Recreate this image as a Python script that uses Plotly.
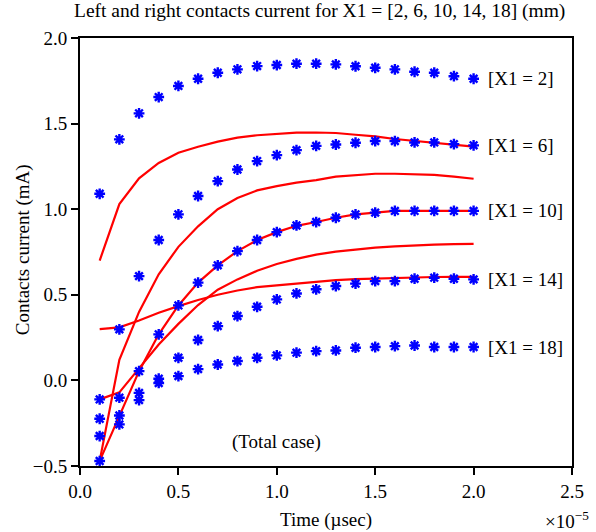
import plotly.graph_objects as go

# Time samples (x 1e-5)
t = [0.1, 0.2, 0.3, 0.4, 0.5, 0.6, 0.7, 0.8, 0.9, 1.0,
     1.1, 1.2, 1.3, 1.4, 1.5, 1.6, 1.7, 1.8, 1.9, 2.0]

# Blue (star) series, one per X1
blue_x1_2 = [1.09, 1.408, 1.56, 1.655, 1.72, 1.762, 1.797, 1.817, 1.836, 1.842,
             1.85, 1.85, 1.846, 1.835, 1.826, 1.817, 1.803, 1.797, 1.777, 1.762]
blue_x1_6 = [-0.111, 0.298, 0.609, 0.82, 0.97, 1.077, 1.164, 1.232, 1.281, 1.316,
             1.345, 1.37, 1.378, 1.388, 1.398, 1.398, 1.39, 1.39, 1.38, 1.373]
blue_x1_10 = [-0.471, -0.205, 0.054, 0.269, 0.438, 0.571, 0.672, 0.755, 0.82, 0.866,
              0.905, 0.925, 0.95, 0.97, 0.98, 0.99, 0.99, 0.99, 0.99, 0.99]
blue_x1_14 = [-0.224, -0.101, -0.073, 0.01, 0.132, 0.236, 0.317, 0.376, 0.43, 0.473,
              0.508, 0.532, 0.551, 0.565, 0.58, 0.58, 0.594, 0.6, 0.594, 0.59]
blue_x1_18 = [-0.325, -0.257, -0.115, -0.015, 0.025, 0.066, 0.093, 0.113, 0.132, 0.146,
              0.162, 0.171, 0.175, 0.191, 0.195, 0.2, 0.204, 0.195, 0.195, 0.195]

# Red (line) series
red_1 = [0.70, 1.03, 1.18, 1.27, 1.33, 1.365, 1.395, 1.418, 1.432, 1.44,
         1.447, 1.448, 1.445, 1.435, 1.425, 1.41, 1.398, 1.385, 1.375, 1.365]
red_2 = [-0.47, 0.12, 0.40, 0.62, 0.78, 0.90, 1.0, 1.065, 1.11, 1.135,
         1.155, 1.17, 1.19, 1.2, 1.207, 1.207, 1.205, 1.2, 1.19, 1.178]
red_3 = [-0.47, -0.21, 0.054, 0.269, 0.438, 0.571, 0.672, 0.755, 0.82, 0.866,
         0.903, 0.925, 0.95, 0.97, 0.98, 0.99, 0.99, 0.99, 0.99, 0.99]
red_4 = [-0.111, -0.07, 0.07, 0.21, 0.33, 0.44, 0.53, 0.59, 0.64, 0.68,
         0.71, 0.735, 0.752, 0.765, 0.775, 0.783, 0.789, 0.793, 0.796, 0.798]
red_5 = [0.30, 0.31, 0.35, 0.395, 0.434, 0.47, 0.50, 0.525, 0.545, 0.555,
         0.567, 0.578, 0.586, 0.592, 0.596, 0.6, 0.602, 0.604, 0.605, 0.605]

labels = ["[X1 = 2]", "[X1 = 6]", "[X1 = 10]", "[X1 = 14]", "[X1 = 18]"]
x_ticks = [0.0, 0.5, 1.0, 1.5, 2.0, 2.5]
y_ticks = [-0.5, 0.0, 0.5, 1.0, 1.5, 2.0]

FONT = "Liberation Serif, Times New Roman, serif"

fig = go.Figure()
for r in [red_1, red_2, red_3, red_4, red_5]:
    fig.add_trace(go.Scatter(x=t, y=r, mode="lines",
                             line=dict(color="#ff0000", width=2.2),
                             showlegend=False, hoverinfo="skip"))
blues = [blue_x1_2, blue_x1_6, blue_x1_10, blue_x1_14, blue_x1_18]
for b in blues:
    fig.add_trace(go.Scatter(x=t, y=b, mode="markers",
                             marker=dict(symbol="asterisk-open", size=9,
                                         color="#0000ff",
                                         line=dict(color="#0000ff", width=2.4)),
                             showlegend=False, hoverinfo="skip"))

annotations = []
for lab, b in zip(labels, blues):
    annotations.append(dict(x=2.065, y=b[-1], xref="x", yref="y", text=lab,
                            showarrow=False, xanchor="left", yanchor="middle",
                            font=dict(family=FONT, size=19, color="black")))
annotations.append(dict(x=1.0, y=-0.36, xref="x", yref="y", text="(Total case)",
                        showarrow=False, xanchor="center", yanchor="middle",
                        font=dict(family=FONT, size=19, color="black")))
annotations.append(dict(x=0.486, y=1.062, xref="paper", yref="paper",
                        text="Left and right contacts current for X1 = [2, 6, 10, 14, 18] (mm)",
                        showarrow=False, xanchor="center", yanchor="middle",
                        font=dict(family=FONT, size=19.5, color="black")))
annotations.append(dict(x=0.5, y=-0.126, xref="paper", yref="paper",
                        text="Time (\u00b5sec)", showarrow=False,
                        xanchor="center", yanchor="middle",
                        font=dict(family=FONT, size=19, color="black")))
annotations.append(dict(x=-0.117, y=0.505, xref="paper", yref="paper",
                        text="Contacts current (mA)", showarrow=False, textangle=-90,
                        xanchor="center", yanchor="middle",
                        font=dict(family=FONT, size=19, color="black")))
annotations.append(dict(x=0.942, y=-0.126, xref="paper", yref="paper",
                        text="\u00d710<sup>\u22125</sup>", showarrow=False,
                        xanchor="left", yanchor="middle",
                        font=dict(family=FONT, size=19, color="black")))

fig.update_layout(
    width=596, height=532,
    margin=dict(l=80, r=19, t=38, b=66),
    paper_bgcolor="white", plot_bgcolor="white",
    font=dict(family=FONT, size=19, color="black"),
    annotations=annotations,
    showlegend=False,
)
fig.update_xaxes(range=[0, 2.5], tickvals=x_ticks, tickformat=".1f",
                 showline=True, linecolor="black", linewidth=2, mirror=True,
                 ticks="outside", ticklen=7, tickwidth=2, tickcolor="black",
                 showgrid=False, zeroline=False,
                 tickfont=dict(family=FONT, size=19, color="black"))
fig.update_yaxes(range=[-0.5, 2.0], tickvals=y_ticks, tickformat=".1f",
                 showline=True, linecolor="black", linewidth=2, mirror=True,
                 ticks="outside", ticklen=7, tickwidth=2, tickcolor="black",
                 showgrid=False, zeroline=False,
                 tickfont=dict(family=FONT, size=19, color="black"))

fig.write_html("out.html")
